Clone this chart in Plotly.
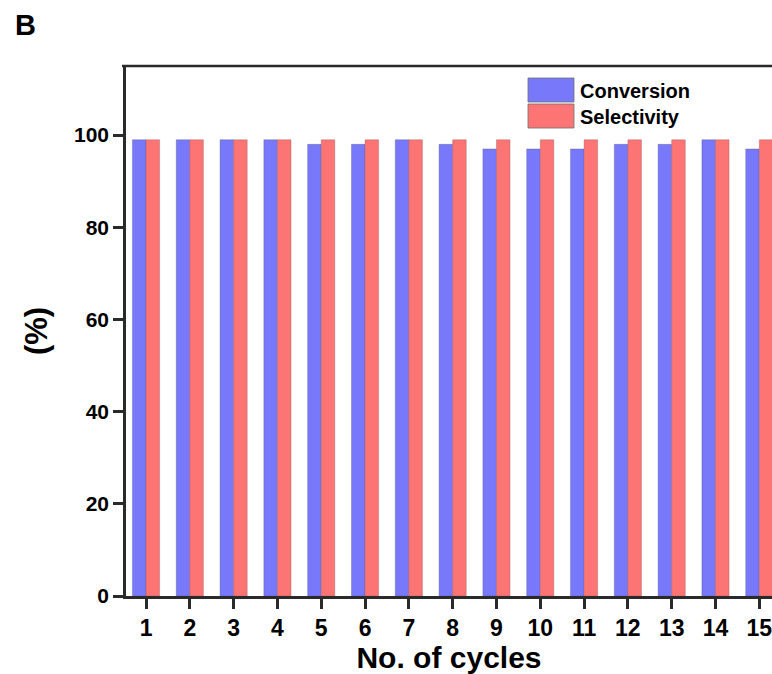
import plotly.graph_objects as go

cycles = list(range(1, 16))
conversion = [99, 99, 99, 99, 98, 98, 99, 98, 97, 97, 97, 98, 98, 99, 97]
selectivity = [99] * 15
tick_labels = [str(c) for c in cycles]
y_ticks = [0, 20, 40, 60, 80, 100]

BLUE = "#7878FA"
RED = "#FC7474"
AXIS = "#2a2a2a"
FONT = "Liberation Sans, Arial, sans-serif"

L, T, W, H = 126, 66, 646, 530

fig = go.Figure()
fig.add_trace(go.Bar(x=cycles, y=conversion, name="Conversion",
                     marker=dict(color=BLUE, line=dict(color="rgba(90,90,140,0.6)", width=0.6))))
fig.add_trace(go.Bar(x=cycles, y=selectivity, name="Selectivity",
                     marker=dict(color=RED, line=dict(color="rgba(150,90,90,0.6)", width=0.6))))

fig.update_layout(
    width=772, height=674,
    margin=dict(l=L, r=0, t=T, b=674 - T - H),
    paper_bgcolor="white", plot_bgcolor="white",
    barmode="group", bargap=0.38, bargroupgap=0,
    showlegend=False,
    font=dict(family=FONT, color="black"),
)
fig.update_xaxes(
    range=[0.543, 15.29], tickvals=cycles, ticktext=tick_labels,
    showline=True, linecolor=AXIS, linewidth=2.5,
    ticks="outside", ticklen=10, tickwidth=2.5, tickcolor=AXIS,
    tickfont=dict(size=23, family=FONT, weight="bold"),
    ticklabeloverflow="allow",
    showgrid=False, zeroline=False, automargin=False,
    title=dict(text="<b>No. of cycles</b>", font=dict(size=30, family=FONT), standoff=5),
)
fig.update_yaxes(
    range=[0, 115], tickvals=y_ticks,
    showline=True, linecolor=AXIS, linewidth=2.5,
    ticks="outside", ticklen=10, tickwidth=2.5, tickcolor=AXIS,
    tickfont=dict(size=21, family=FONT, weight="bold"),
    showgrid=False, zeroline=False, automargin=False,
    title=dict(text="<b>(%)</b>", font=dict(size=31, family=FONT), standoff=18),
)

# top frame line
fig.add_shape(type="line", xref="paper", yref="paper", x0=-4 / W, x1=1, y0=1, y1=1,
              line=dict(color=AXIS, width=2.5))

# legend (custom, large swatches)
for i, (name, col) in enumerate([("Conversion", BLUE), ("Selectivity", RED)]):
    y_top = 78 + i * 26
    fig.add_shape(type="rect", xref="paper", yref="paper",
                  x0=(528 - L) / W, x1=(574 - L) / W,
                  y0=(T + H - (y_top + 24)) / H, y1=(T + H - y_top) / H,
                  fillcolor=col, line=dict(color="rgba(110,110,110,0.8)", width=1))
    fig.add_annotation(xref="paper", yref="paper", x=(578 - L) / W,
                       y=(T + H - (y_top + 13)) / H, text=f"<b>{name}</b>",
                       showarrow=False, xanchor="left", yanchor="middle",
                       font=dict(size=20, family=FONT, color="black"))

# panel label
fig.add_annotation(xref="paper", yref="paper", x=(13 - L) / W, y=(T + H - 25) / H,
                   text="<b>B</b>", showarrow=False, xanchor="left", yanchor="middle",
                   font=dict(size=29, family=FONT, color="black"))

fig.write_html("out.html", config={"displayModeBar": False},
               post_script="document.body.style.margin='0';document.body.style.overflow='hidden';")
